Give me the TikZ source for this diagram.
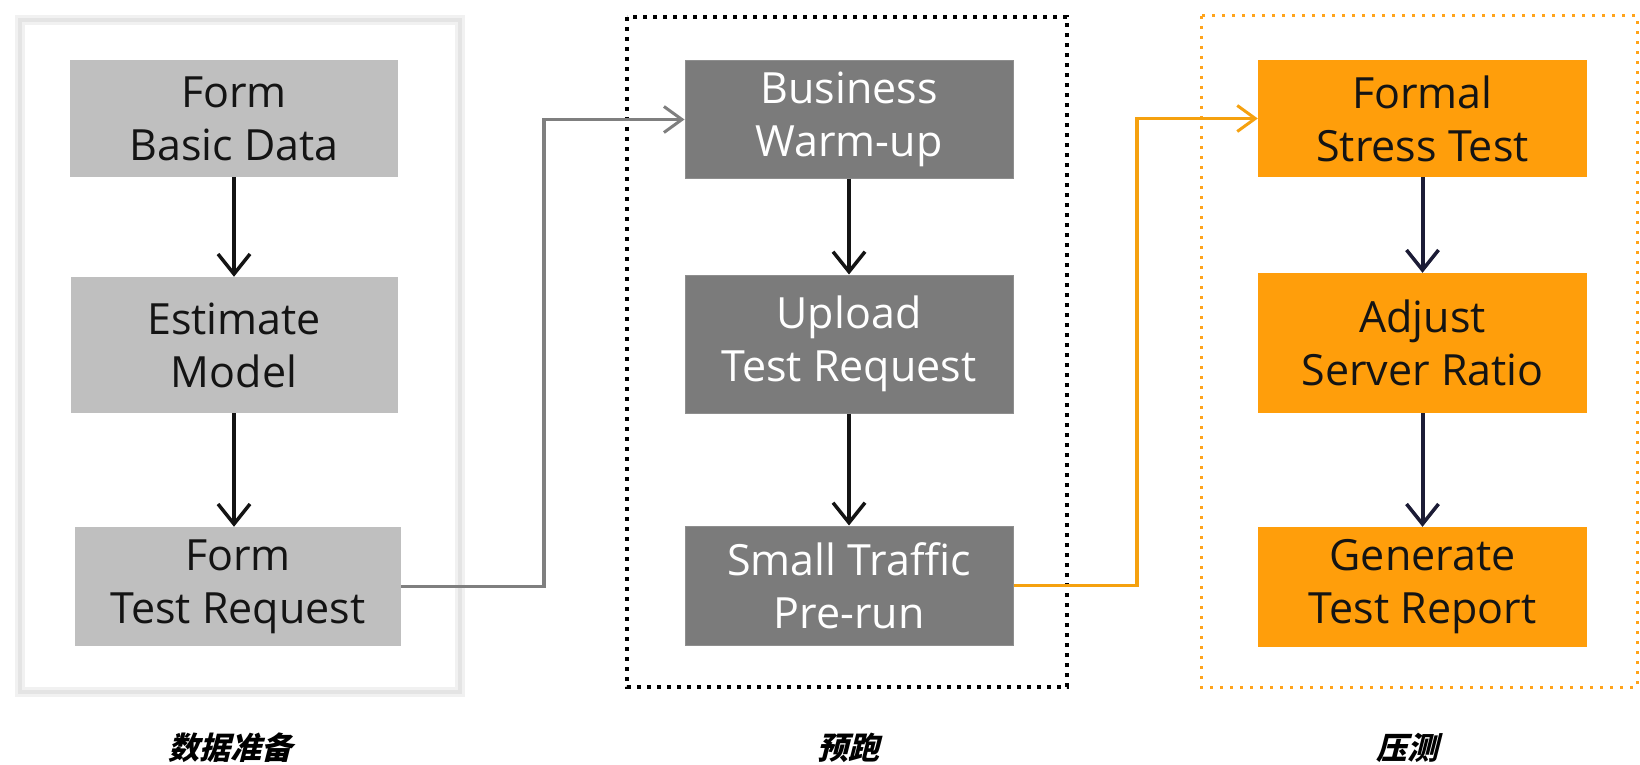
\documentclass[tikz,border=0pt]{standalone}
\usepackage{fontspec}
\setmainfont{Open Sans}
\newfontfamily\cjk{Noto Sans CJK SC}[FakeSlant=0.25]
\usetikzlibrary{arrows.meta}
\definecolor{lightbox}{HTML}{BFBFBF}
\definecolor{darkbox}{HTML}{7B7B7B}
\definecolor{darkedge}{HTML}{8E8E8E}
\definecolor{orangebox}{HTML}{FF9E0B}
\definecolor{orangeline}{HTML}{F5A10F}
\definecolor{orangedot}{HTML}{FFA31A}
\definecolor{framegray}{HTML}{E4E4E4}
\definecolor{linkgray}{HTML}{7F7F7F}
\definecolor{navy}{HTML}{1C1C36}
\definecolor{ink}{HTML}{141414}
\tikzset{
  stepbox/.style={rectangle, inner sep=0pt, align=center,
    font=\fontsize{43}{53}\selectfont},
  lightstep/.style={stepbox, fill=lightbox, text=ink},
  darkstep/.style={stepbox, fill=darkbox, draw=darkedge, line width=1pt, text=white},
  orangestep/.style={stepbox, fill=orangebox, text=ink},
  flow/.style={line width=4pt, -{Straight Barb[length=20pt,width=32pt,line width=3.5pt]}},
  link/.style={line width=3.5pt, -{Straight Barb[length=18pt,width=26pt,line width=3pt]}},
  phase/.style={font=\cjk\bfseries\fontsize{31}{31}\selectfont, inner sep=0pt},
}
\begin{document}
\begin{tikzpicture}[x=1pt,y=-1pt]
\useasboundingbox[fill=white] (0,0) rectangle (1640,765);

% group frames
\draw[framegray!50, line width=10pt] (20,20) rectangle (460,692);
\draw[framegray, line width=4pt] (20,20) rectangle (460,692);
\draw[black, line width=4pt, dash pattern=on 4pt off 6pt] (627,17) rectangle (1067,687);
\draw[orangedot, line width=3pt, dash pattern=on 3pt off 7pt] (1201,16) rectangle (1637,687);

% data preparation column
\node[lightstep, minimum width=328pt, minimum height=117pt] (a1) at (234,118.5) {Form\\Basic Data};
\node[lightstep, minimum width=327pt, minimum height=136pt] (a2) at (234,345) {Estimate\\Model};
\node[lightstep, minimum width=326pt, minimum height=119pt] (a3) at (238,586.5) {Form\\Test Request};

% pre-run column
\node[darkstep, minimum width=328pt, minimum height=117pt] (b1) at (849,119.5) {Business\\Warm-up};
\node[darkstep, minimum width=328pt, minimum height=138pt] (b2) at (849,344) {Upload\\Test Request};
\node[darkstep, minimum width=328pt, minimum height=119pt] (b3) at (849,585.5) {Small Traffic\\Pre-run};

% stress test column
\node[orangestep, minimum width=329pt, minimum height=117pt] (c1) at (1422.5,118.5) {Formal\\Stress Test};
\node[orangestep, minimum width=329pt, minimum height=140pt] (c2) at (1422.5,343) {Adjust\\Server Ratio};
\node[orangestep, minimum width=329pt, minimum height=120pt] (c3) at (1422.5,587) {Generate\\Test Report};

% arrows inside columns
\draw[flow, ink] (a1.south) -- (a2.north);
\draw[flow, ink] (a2.south) -- (a2.south |- a3.north);
\draw[flow, ink] (b1.south) -- (b2.north);
\draw[flow, ink] (b2.south) -- (b3.north);
\draw[flow, navy] (c1.south) -- (c2.north);
\draw[flow, navy] (c2.south) -- (c3.north);

% links between phases
\coordinate (g1) at (544,0);
\coordinate (g2) at (1137,0);
\draw[link, linkgray] (a3.east) -- (a3.east -| g1) |- (b1.west);
\draw[link, orangeline] (b3.east) -- (b3.east -| g2) |- (c1.west);

% phase captions
\node[phase] (p1) at (230,748) {数据准备};
\node[phase] (p2) at (848,748) {预跑};
\node[phase] (p3) at (1407,748) {压测};
\end{tikzpicture}
\end{document}
